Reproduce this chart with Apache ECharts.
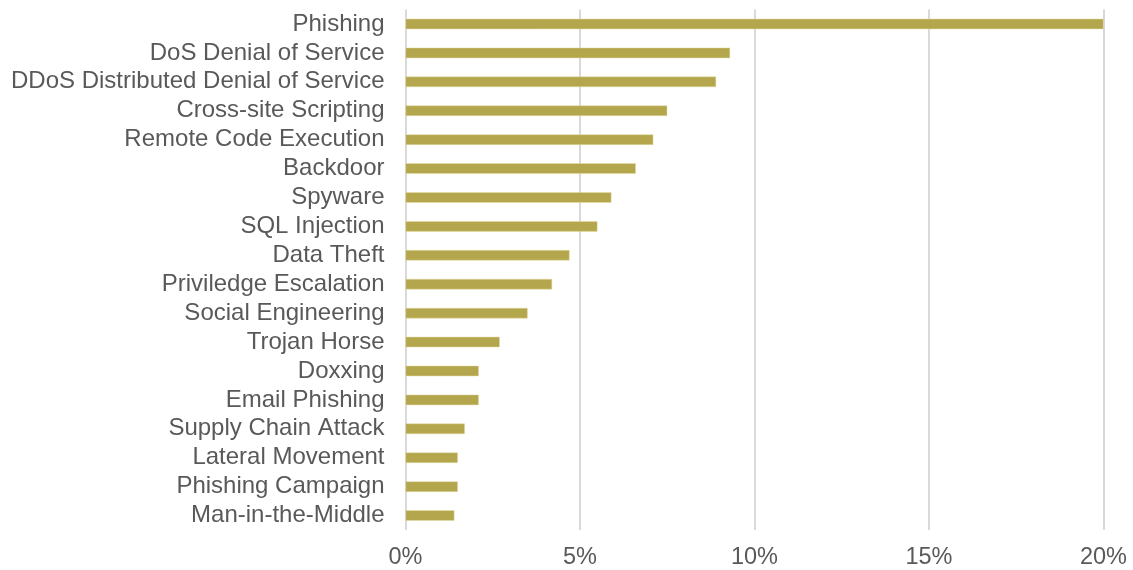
<!DOCTYPE html>
<html>
<head>
<meta charset="utf-8">
<script src="https://cdn.jsdelivr.net/npm/echarts@6/dist/echarts.min.js"></script>
<style>
  html, body { margin: 0; padding: 0; background: #fff; }
  #chart { width: 1133px; height: 570px; }
</style>
</head>
<body>
<div id="chart"></div>
<script>
// 攻击类型占比
const categories = [
  'Phishing', 'DoS Denial of Service', 'DDoS Distributed Denial of Service',
  'Cross-site Scripting', 'Remote Code Execution', 'Backdoor', 'Spyware',
  'SQL Injection', 'Data Theft', 'Priviledge Escalation', 'Social Engineering',
  'Trojan Horse', 'Doxxing', 'Email Phishing', 'Supply Chain Attack',
  'Lateral Movement', 'Phishing Campaign', 'Man-in-the-Middle'
];
const shares = [20.0, 9.3, 8.9, 7.5, 7.1, 6.6, 5.9, 5.5, 4.7, 4.2, 3.5, 2.7, 2.1, 2.1, 1.7, 1.5, 1.5, 1.4];
const xTicks = { min: 0, max: 20, interval: 5 };

const chart = echarts.init(document.getElementById('chart'));
chart.setOption({
  animation: false,
  textStyle: { fontFamily: 'Liberation Sans, Arial, sans-serif' },
  grid: { left: 405.5, right: 29.5, top: 9.5, bottom: 39.5, containLabel: false },
  xAxis: {
    type: 'value',
    min: xTicks.min,
    max: xTicks.max,
    interval: xTicks.interval,
    axisLine: { show: false },
    axisTick: { show: false },
    splitLine: { show: true, lineStyle: { color: '#d9d9d9', width: 2 } },
    axisLabel: {
      formatter: '{value}%',
      color: '#595959',
      fontSize: 23.5,
      margin: 16
    }
  },
  yAxis: {
    type: 'category',
    inverse: true,
    data: categories,
    axisLine: { show: false },
    axisTick: { show: false },
    axisLabel: { color: '#595959', fontSize: 24, margin: 21, interval: 0 }
  },
  series: [{
    type: 'bar',
    data: shares,
    barWidth: 10.5,
    itemStyle: { color: '#b3a64d', borderColor: '#e4dca8', borderWidth: 0.5 }
  }]
});
</script>
</body>
</html>
